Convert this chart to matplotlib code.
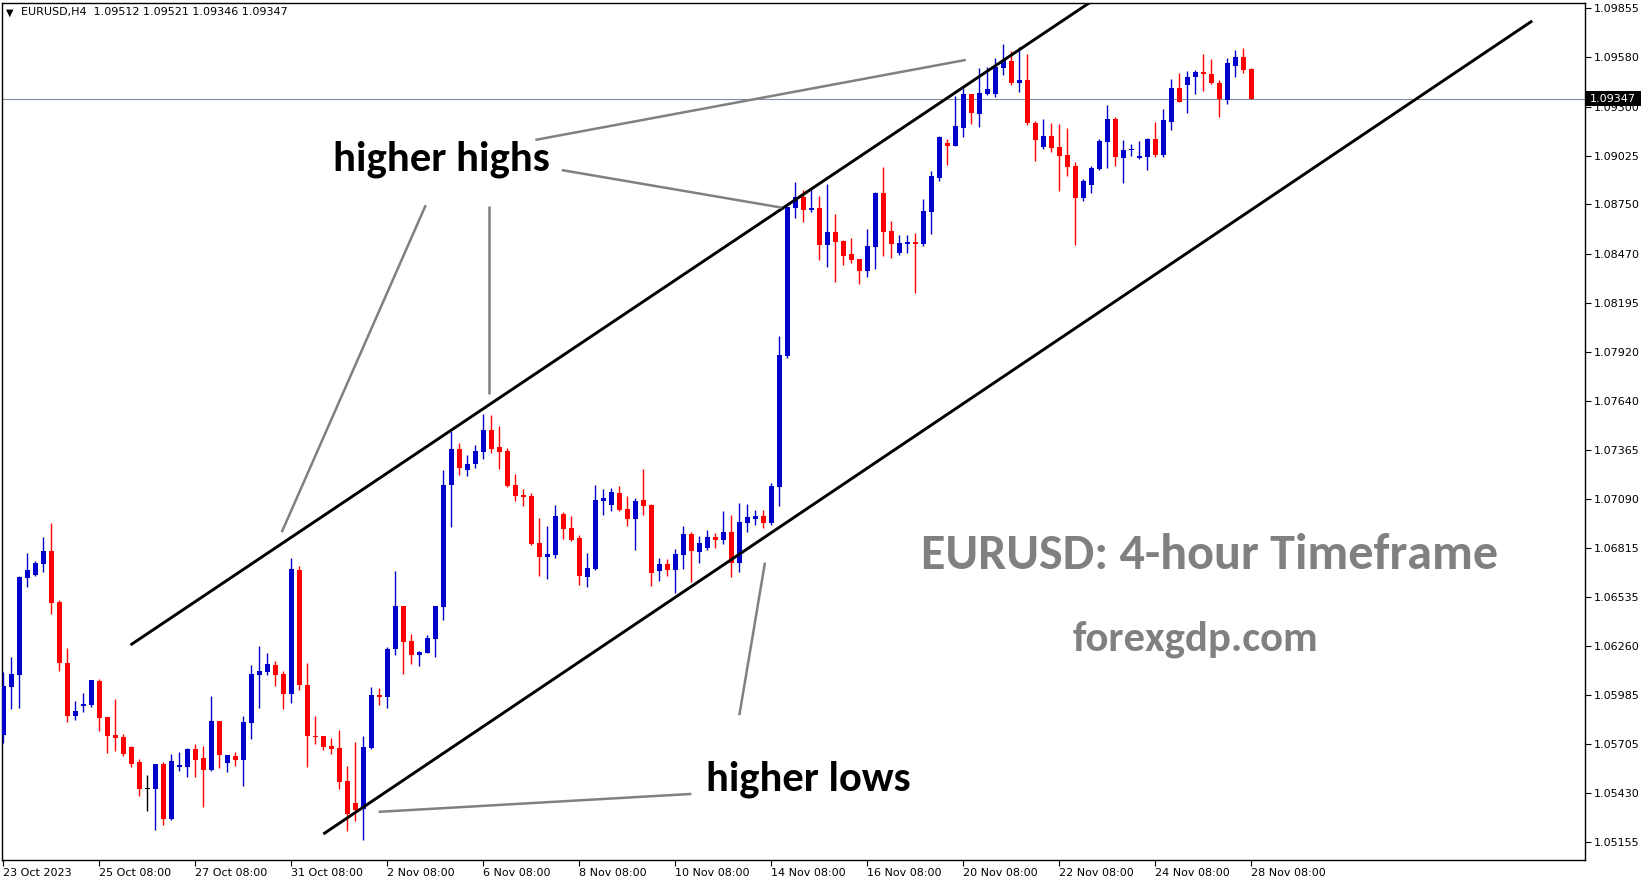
import matplotlib
matplotlib.use('Agg')
import matplotlib.pyplot as plt
from matplotlib import font_manager
from matplotlib.patches import Rectangle
import numpy as np

W, H, DPI = 1649, 884, 100

# ---------------- data (EURUSD H4) ----------------
opens = [1.05758, 1.06031, 1.06098, 1.06646, 1.06661, 1.06725, 1.06796, 1.06506, 1.06164, 1.05867,
         1.05924, 1.05927, 1.06063, 1.05860, 1.05758, 1.05747, 1.05690, 1.05606, 1.05457, 1.05455,
         1.05595, 1.05284, 1.05580, 1.05580, 1.05679, 1.05628, 1.05563, 1.05837, 1.05602, 1.05640,
         1.05617, 1.05828, 1.06097, 1.06115, 1.06153, 1.06102, 1.05991, 1.06689, 1.06040, 1.05754,
         1.05752, 1.05696, 1.05685, 1.05499, 1.05375, 1.05343, 1.05685, 1.05984, 1.05974, 1.06241,
         1.06486, 1.06288, 1.06211, 1.06222, 1.06299, 1.06482, 1.07170, 1.07371, 1.07254, 1.07288,
         1.07356, 1.07478, 1.07382, 1.07360, 1.07168, 1.07112, 1.07106, 1.06841, 1.06764, 1.06775,
         1.07004, 1.06925, 1.06869, 1.06651, 1.06696, 1.07080, 1.07057, 1.07123, 1.07033, 1.06978,
         1.07083, 1.07055, 1.06685, 1.06722, 1.06690, 1.06775, 1.06891, 1.06790, 1.06812, 1.06874,
         1.06858, 1.06903, 1.06730, 1.06955, 1.06978, 1.06993, 1.06955, 1.07158, 1.07897, 1.08732,
         1.08792, 1.08720, 1.08730, 1.08523, 1.08594, 1.08544, 1.08470, 1.08442, 1.08376, 1.08512,
         1.08815, 1.08600, 1.08478, 1.08529, 1.08538, 1.08527, 1.08709, 1.08901, 1.09097, 1.09081,
         1.09183, 1.09373, 1.09262, 1.09373, 1.09373, 1.09521, 1.09559, 1.09437, 1.09452, 1.09209,
         1.09076, 1.09136, 1.09074, 1.09029, 1.08967, 1.08788, 1.08862, 1.08950, 1.09104, 1.09232,
         1.09014, 1.09057, 1.09012, 1.09019, 1.09119, 1.09031, 1.09217, 1.09407, 1.09426, 1.09471,
         1.09497, 1.09486, 1.09435, 1.09341, 1.09533, 1.09582, 1.09512]
highs = [1.06115, 1.06198, 1.06655, 1.06787, 1.06740, 1.06875, 1.06954, 1.06520, 1.06249, 1.05950,
         1.05995, 1.06068, 1.06074, 1.05860, 1.05961, 1.05766, 1.05696, 1.05621, 1.05533, 1.05595,
         1.05608, 1.05651, 1.05662, 1.05685, 1.05707, 1.05696, 1.05978, 1.05837, 1.05645, 1.05662,
         1.05865, 1.06153, 1.06260, 1.06221, 1.06176, 1.06119, 1.06756, 1.06711, 1.06164, 1.05865,
         1.05754, 1.05741, 1.05786, 1.05583, 1.05719, 1.05753, 1.06029, 1.06023, 1.06254, 1.06683,
         1.06486, 1.06328, 1.06232, 1.06320, 1.06487, 1.07253, 1.07474, 1.07407, 1.07337, 1.07394,
         1.07568, 1.07563, 1.07501, 1.07375, 1.07230, 1.07145, 1.07123, 1.06984, 1.06937, 1.07055,
         1.07016, 1.06993, 1.06886, 1.06784, 1.07168, 1.07145, 1.07151, 1.07162, 1.07106, 1.07095,
         1.07258, 1.07061, 1.06756, 1.06750, 1.06807, 1.06936, 1.06903, 1.06880, 1.06914, 1.06897,
         1.07021, 1.06999, 1.07068, 1.07061, 1.07027, 1.07027, 1.07177, 1.08008, 1.08738, 1.08875,
         1.08833, 1.08837, 1.08798, 1.08865, 1.08696, 1.08549, 1.08563, 1.08442, 1.08611, 1.08822,
         1.08961, 1.08657, 1.08578, 1.08578, 1.08589, 1.08783, 1.08939, 1.09136, 1.09121, 1.09362,
         1.09405, 1.09373, 1.09519, 1.09525, 1.09574, 1.09655, 1.09613, 1.09638, 1.09598, 1.09221,
         1.09232, 1.09209, 1.09204, 1.09181, 1.08989, 1.08893, 1.08967, 1.09117, 1.09311, 1.09243,
         1.09113, 1.09091, 1.09108, 1.09125, 1.09215, 1.09288, 1.09457, 1.09491, 1.09503, 1.09508,
         1.09598, 1.09570, 1.09452, 1.09576, 1.09621, 1.09632, 1.09521]
lows = [1.05715, 1.05907, 1.05912, 1.06595, 1.06655, 1.06678, 1.06441, 1.06121, 1.05833, 1.05845,
        1.05890, 1.05916, 1.05783, 1.05659, 1.05670, 1.05642, 1.05580, 1.05416, 1.05331, 1.05220,
        1.05252, 1.05281, 1.05557, 1.05523, 1.05523, 1.05354, 1.05557, 1.05574, 1.05551, 1.05585,
        1.05472, 1.05737, 1.05912, 1.06098, 1.06036, 1.05907, 1.05940, 1.06014, 1.05580, 1.05709,
        1.05675, 1.05653, 1.05455, 1.05219, 1.05275, 1.05168, 1.05681, 1.05929, 1.05912, 1.06211,
        1.06104, 1.06159, 1.06149, 1.06219, 1.06200, 1.06407, 1.06933, 1.07226, 1.07221, 1.07266,
        1.07316, 1.07350, 1.07260, 1.07159, 1.07080, 1.07050, 1.06830, 1.06657, 1.06640, 1.06758,
        1.06865, 1.06854, 1.06606, 1.06594, 1.06690, 1.07001, 1.07023, 1.07023, 1.06939, 1.06803,
        1.07001, 1.06600, 1.06629, 1.06656, 1.06561, 1.06696, 1.06623, 1.06730, 1.06801, 1.06814,
        1.06837, 1.06651, 1.06679, 1.06905, 1.06944, 1.06927, 1.06944, 1.07051, 1.07886, 1.08676,
        1.08653, 1.08709, 1.08439, 1.08399, 1.08314, 1.08408, 1.08422, 1.08303, 1.08343, 1.08388,
        1.08461, 1.08450, 1.08465, 1.08476, 1.08249, 1.08517, 1.08585, 1.08884, 1.08974, 1.09081,
        1.09132, 1.09204, 1.09189, 1.09367, 1.09356, 1.09480, 1.09426, 1.09384, 1.09198, 1.08997,
        1.09065, 1.09048, 1.08828, 1.08912, 1.08521, 1.08771, 1.08816, 1.08946, 1.08957, 1.08969,
        1.08873, 1.09025, 1.09008, 1.08946, 1.09019, 1.09019, 1.09172, 1.09330, 1.09268, 1.09375,
        1.09392, 1.09429, 1.09245, 1.09316, 1.09471, 1.09493, 1.09346]
closes = [1.06035, 1.06102, 1.06649, 1.06689, 1.06728, 1.06796, 1.06505, 1.06166, 1.05867, 1.05894,
          1.05933, 1.06068, 1.05856, 1.05754, 1.05743, 1.05653, 1.05596, 1.05455, 1.05457, 1.05595,
          1.05286, 1.05612, 1.05585, 1.05679, 1.05619, 1.05563, 1.05837, 1.05647, 1.05645, 1.05617,
          1.05831, 1.06102, 1.06119, 1.06159, 1.06097, 1.05991, 1.06694, 1.06040, 1.05754, 1.05749,
          1.05692, 1.05681, 1.05495, 1.05314, 1.05337, 1.05690, 1.05984, 1.05974, 1.06243, 1.06486,
          1.06285, 1.06211, 1.06226, 1.06305, 1.06485, 1.07168, 1.07371, 1.07266, 1.07286, 1.07360,
          1.07478, 1.07373, 1.07356, 1.07162, 1.07108, 1.07102, 1.06835, 1.06764, 1.06779, 1.06993,
          1.06922, 1.06860, 1.06657, 1.06700, 1.07083, 1.07095, 1.07128, 1.07029, 1.06978, 1.07078,
          1.07051, 1.06674, 1.06722, 1.06688, 1.06779, 1.06891, 1.06797, 1.06841, 1.06874, 1.06858,
          1.06903, 1.06730, 1.06959, 1.06987, 1.06993, 1.06953, 1.07162, 1.07901, 1.08738, 1.08792,
          1.08720, 1.08730, 1.08523, 1.08594, 1.08540, 1.08461, 1.08439, 1.08376, 1.08516, 1.08815,
          1.08596, 1.08527, 1.08532, 1.08538, 1.08529, 1.08713, 1.08910, 1.09130, 1.09081, 1.09192,
          1.09373, 1.09268, 1.09378, 1.09401, 1.09525, 1.09565, 1.09435, 1.09452, 1.09211, 1.09113,
          1.09136, 1.09070, 1.09025, 1.08963, 1.08788, 1.08882, 1.08956, 1.09108, 1.09232, 1.09019,
          1.09057, 1.09063, 1.09023, 1.09119, 1.09031, 1.09226, 1.09407, 1.09330, 1.09469, 1.09497,
          1.09488, 1.09437, 1.09347, 1.09548, 1.09582, 1.09510, 1.09347]

x_tick_bars = [0, 12, 24, 36, 48, 60, 72, 84, 96, 108, 120, 132, 144, 156]
x_tick_labels = ['23 Oct 2023', '25 Oct 08:00', '27 Oct 08:00', '31 Oct 08:00', '2 Nov 08:00',
                 '6 Nov 08:00', '8 Nov 08:00', '10 Nov 08:00', '14 Nov 08:00', '16 Nov 08:00',
                 '20 Nov 08:00', '22 Nov 08:00', '24 Nov 08:00', '28 Nov 08:00']
y_tick_values = [1.09855, 1.09580, 1.09300, 1.09025, 1.08750, 1.08470, 1.08195, 1.07920, 1.07640,
                 1.07365, 1.07090, 1.06815, 1.06535, 1.06260, 1.05985, 1.05705, 1.05430, 1.05155]
last_price = 1.09347
header = 'EURUSD,H4  1.09512 1.09521 1.09346 1.09347'

# channel lines & pointer lines, in (bar index, price)
upper_channel = [(15.9, 1.06266), (137.0, 1.09925)]
lower_channel = [(40.0, 1.05200), (191.1, 1.09785)]
pointer_lines = [
    [(66.5, 1.09114), (120.3, 1.09565)],
    [(69.8, 1.08944), (97.3, 1.08732)],
    [(52.8, 1.08746), (34.8, 1.06902)],
    [(60.7, 1.08741), (60.7, 1.07679)],
    [(46.9, 1.05325), (86.0, 1.05426)],
    [(95.2, 1.06730), (92.0, 1.05870)],
]

# ---------------- figure ----------------
names = {f.name for f in font_manager.fontManager.ttflist}
ANN_FONT = 'Carlito' if 'Carlito' in names else 'Lato'
XFONT = 'Liberation Sans Narrow' if 'Liberation Sans Narrow' in names else 'DejaVu Sans'
XSIZE = 10 if XFONT == 'Liberation Sans Narrow' else 8

fig = plt.figure(figsize=(W / DPI, H / DPI), dpi=DPI, facecolor='white')
ax_l, ax_r, ax_t, ax_b = 2.3, 1585.0, 3.0, 860.0
ax = fig.add_axes([ax_l / W, 1 - ax_b / H, (ax_r - ax_l) / W, (ax_b - ax_t) / H])
ax.set_facecolor('white')

o = np.array(opens); h = np.array(highs); l = np.array(lows); c = np.array(closes)
idx = np.arange(len(o))
BLUE, RED = '#0000CC', '#FF0000'
cols = np.where(c > o, BLUE, np.where(c < o, RED, '#000000'))

ax.vlines(idx, l, h, colors=cols, linewidth=1.0, zorder=3)
min_h = 0.00008
body_lo = np.minimum(o, c)
body_h = np.maximum(np.abs(c - o), min_h)
body_lo = np.where(np.abs(c - o) < min_h, body_lo - (min_h - np.abs(c - o)) / 2, body_lo)
ax.bar(idx, body_h, bottom=body_lo, width=0.62, color=cols, linewidth=0, zorder=4)

# last price line
ax.axhline(last_price, color='#8090A0', linewidth=0.8, zorder=2)

# channel lines
for seg in (upper_channel, lower_channel):
    xs, ys = zip(*seg)
    ax.plot(xs, ys, color='black', linewidth=2.1, solid_capstyle='butt', zorder=5)
for seg in pointer_lines:
    xs, ys = zip(*seg)
    ax.plot(xs, ys, color='#808080', linewidth=1.8, solid_capstyle='butt', zorder=5)

ax.set_xlim(-0.125, 197.7)
ax.set_ylim(1.050535, 1.09886)

ax.yaxis.tick_right()
ax.set_yticks(y_tick_values)
ax.set_yticklabels([f'{v:.5f}' for v in y_tick_values], fontsize=8, family='DejaVu Sans')
ax.tick_params(axis='y', direction='out', length=4, width=0.8, pad=2, colors='black')
ax.set_xticks(x_tick_bars)
ax.set_xticklabels(x_tick_labels, fontsize=XSIZE, family=XFONT, ha='left')
ax.tick_params(axis='x', direction='out', length=4, width=0.8, pad=1.5, colors='black')
for s in ax.spines.values():
    s.set_color('black')
    s.set_linewidth(1.0)

# last price label box
bx0, bx1 = 1586, 1641
yc = 8.5 + (1.09855 - last_price) * 17734
fig.patches.append(Rectangle((bx0 / W, 1 - (yc + 7.5) / H), (bx1 - bx0) / W, 15 / H,
                             transform=fig.transFigure, facecolor='black', edgecolor='none',
                             zorder=10))
fig.text((bx0 + 4) / W, 1 - yc / H, f'{last_price:.5f}', color='white', fontsize=8,
         family='DejaVu Sans', ha='left', va='center', zorder=11)

# header
fig.text(6 / W, 1 - 12.5 / H, '\u25BC', fontsize=7, family='DejaVu Sans', ha='left',
         va='center', color='black')
fig.text(21 / W, 1 - 12.5 / H, header, fontsize=8, family='DejaVu Sans', ha='left',
         va='center', color='black')

# annotation texts, fitted to reference widths
fig.canvas.draw()
rend = fig.canvas.get_renderer()

def fit_text(x, y, s, target_w, color):
    t = fig.text(x / W, 1 - y / H, s, fontsize=28, fontweight='bold', family=ANN_FONT,
                 color=color, ha='left', va='baseline', zorder=12)
    w = t.get_window_extent(renderer=rend).width
    t.set_fontsize(28 * target_w / w)
    return t

fit_text(333, 170, 'higher highs', 217, 'black')
fit_text(706, 791, 'higher lows', 205, 'black')
fit_text(921, 569, 'EURUSD: 4-hour Timeframe', 577, '#808080')
fit_text(1073, 650, 'forexgdp.com', 246, '#808080')

fig.savefig('out.png', dpi=DPI, facecolor='white')
